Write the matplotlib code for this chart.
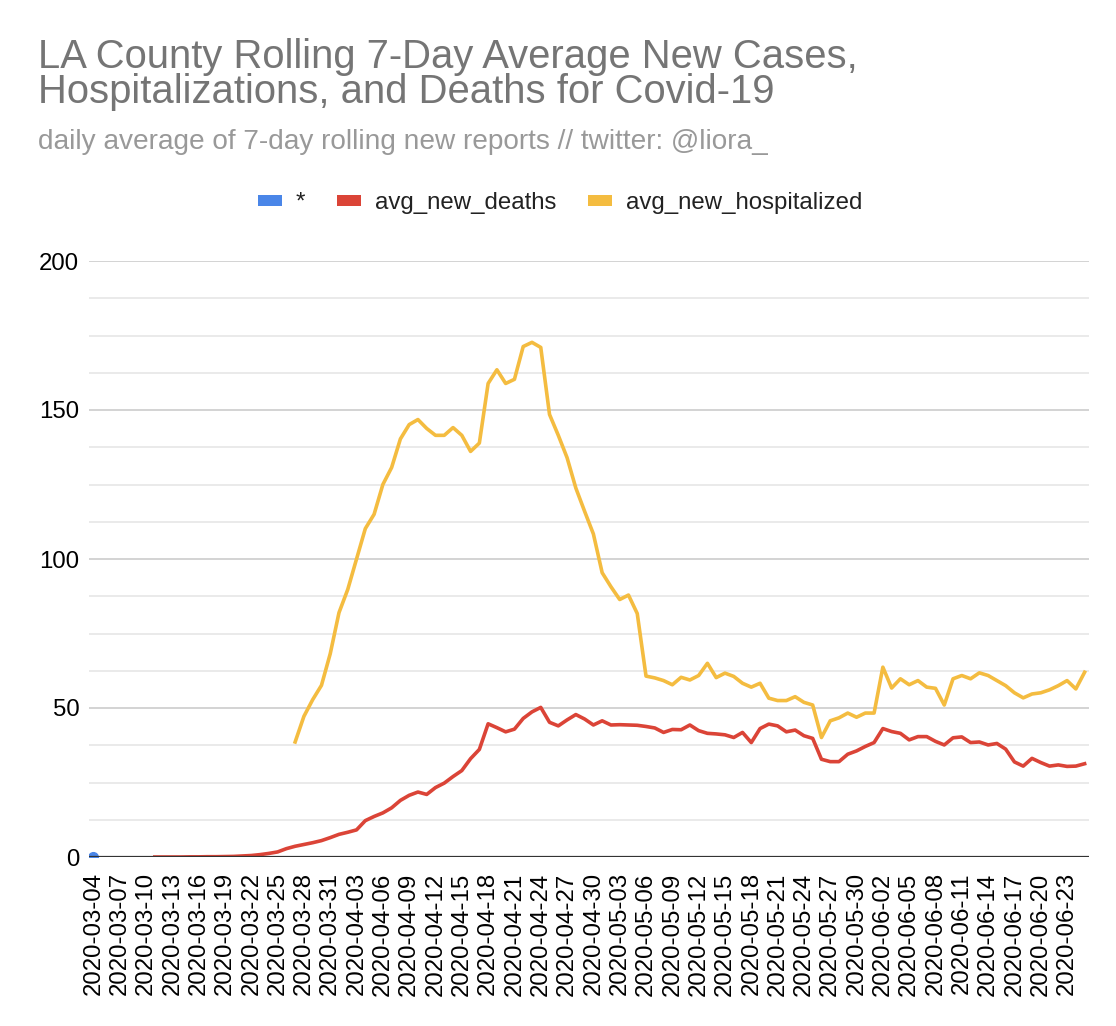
import matplotlib
matplotlib.use("Agg")
import matplotlib.pyplot as plt
from matplotlib.patches import Patch
import numpy as np
import pandas as pd

plt.rcParams['font.family'] = ['Liberation Sans', 'DejaVu Sans']

# --- data ---
start_date = "2020-03-04"
n_days = 114
dates = pd.date_range(start_date, periods=n_days).strftime("%Y-%m-%d").tolist()

star_series = [0.0]  # the "*" series only has its first point

avg_new_deaths = [None] * 7 + [
    0, 0, 0, 0, 0.05, 0.05, 0.1, 0.1, 0.15, 0.2,
    0.35, 0.5, 0.8, 1.2, 1.7, 2.8, 3.6, 4.2, 4.8, 5.5,
    6.5, 7.6, 8.3, 9.1, 12.2, 13.6, 14.8, 16.5, 19.0, 20.7,
    21.8, 21.0, 23.3, 24.8, 27.0, 29.0, 33.0, 36.1, 44.7, 43.4,
    42.0, 42.9, 46.5, 48.7, 50.2, 45.2, 44.0, 46.0, 47.8, 46.3,
    44.3, 45.7, 44.3, 44.4, 44.3, 44.2, 43.8, 43.3, 41.8, 42.8,
    42.7, 44.3, 42.4, 41.5, 41.3, 41.0, 40.1, 41.8, 38.4, 43.1,
    44.6, 44.0, 42.0, 42.6, 40.7, 39.8, 32.8, 32.0, 32.0, 34.5,
    35.6, 37.1, 38.4, 43.1, 42.1, 41.5, 39.3, 40.4, 40.4, 38.8,
    37.6, 40.0, 40.3, 38.4, 38.6, 37.6, 38.1, 36.2, 31.9, 30.5,
    33.1, 31.7, 30.5, 30.9, 30.4, 30.5, 31.3,
]

avg_new_hospitalized = [None] * 23 + [
    38.6, 47.2, 52.8, 57.6, 68.2, 82.0, 89.8, 100.0, 110.2, 115.0,
    125.0, 130.7, 140.3, 145.1, 146.8, 143.8, 141.5, 141.5, 144.1, 141.5,
    136.1, 138.9, 158.9, 163.5, 158.9, 160.3, 171.3, 172.7, 171.0, 148.5,
    141.5, 134.0, 123.8, 116.0, 108.4, 95.4, 90.7, 86.4, 87.9, 81.7,
    60.7, 60.1, 59.2, 57.8, 60.3, 59.4, 60.9, 65.0, 60.2, 61.7,
    60.6, 58.3, 57.0, 58.3, 53.3, 52.5, 52.5, 53.8, 51.9, 51.0,
    40.1, 45.7, 46.7, 48.3, 46.9, 48.3, 48.3, 63.7, 56.7, 59.8,
    57.8, 59.2, 57.0, 56.6, 51.0, 59.8, 60.9, 59.8, 61.8, 60.9,
    59.2, 57.5, 55.1, 53.4, 54.7, 55.1, 56.1, 57.5, 59.2, 56.4,
    62.0,
]

series_names = ["*", "avg_new_deaths", "avg_new_hospitalized"]
colors = ["#4A86E8", "#DB4437", "#F4BC40"]

deaths = np.array([np.nan if v is None else v for v in avg_new_deaths], dtype=float)
hosp = np.array([np.nan if v is None else v for v in avg_new_hospitalized], dtype=float)
x = np.arange(n_days)

fig = plt.figure(figsize=(11.16, 10.26), dpi=100)
ax = fig.add_axes([89 / 1116, 1 - 857 / 1026, 1000 / 1116, (857 - 261) / 1026])

ax.plot(x, hosp, color=colors[2], lw=2.6, zorder=3)
ax.plot(x, deaths, color=colors[1], lw=2.6, zorder=4)
ax.plot(x[:len(star_series)], star_series, "o", color=colors[0], ms=7, zorder=5)

ax.set_xlim(-0.5, n_days - 0.5)
ax.set_ylim(0, 200)

# gridlines
ax.set_yticks([0, 50, 100, 150, 200])
ax.set_yticks(np.arange(0, 201, 12.5), minor=True)
ax.grid(axis="y", which="major", color="#cccccc", lw=1.2, zorder=0)
ax.grid(axis="y", which="minor", color="#e6e6e6", lw=1.2, zorder=0)
ax.axhline(0, color="#333333", lw=1.6, zorder=6)
for s in ax.spines.values():
    s.set_visible(False)

ax.tick_params(axis="y", which="both", length=0, pad=7, labelsize=17.3, labelcolor="#000000")
ax.tick_params(axis="x", which="both", length=0, pad=11, labelsize=17.3, labelcolor="#000000")
ax.set_xticks(x[::3])
ax.set_xticklabels(dates[::3], rotation=90, va="top", ha="center")

# titles
fig.text(38 / 1116, 1 - 68 / 1026, "LA County Rolling 7-Day Average New Cases,",
         fontsize=28.8, color="#757575", va="baseline", ha="left")
fig.text(38 / 1116, 1 - 103 / 1026, "Hospitalizations, and Deaths for Covid-19",
         fontsize=28.8, color="#757575", va="baseline", ha="left")
fig.text(38 / 1116, 1 - 149 / 1026, "daily average of 7-day rolling new reports // twitter: @liora_",
         fontsize=20.2, color="#999999", va="baseline", ha="left")

handles = [Patch(facecolor=c, edgecolor="none") for c in colors]
fig.legend(handles, series_names, loc="center", bbox_to_anchor=(560 / 1116, 1 - 203 / 1026),
           ncol=3, frameon=False, fontsize=17.3, handlelength=1.0, handleheight=0.33,
           handletextpad=0.6, columnspacing=1.3, labelcolor="#222222")

fig.savefig("out.png", dpi=100)
